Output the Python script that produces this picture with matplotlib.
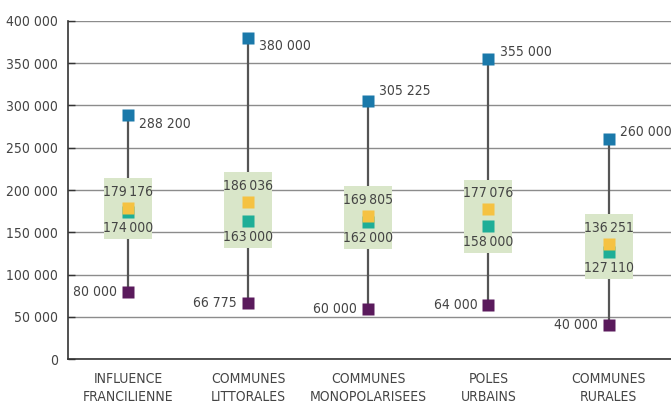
import matplotlib
matplotlib.use('Agg')
import matplotlib.pyplot as plt
import numpy as np

categories = ['INFLUENCE\nFRANCILIENNE', 'COMMUNES\nLITTORALES', 'COMMUNES\nMONOPOLARISEES',
              'POLES\nURBAINS', 'COMMUNES\nRURALES']
max_vals = [288200, 380000, 305225, 355000, 260000]
mean_vals = [179176, 186036, 169805, 177076, 136251]
median_vals = [174000, 163000, 162000, 158000, 127110]
min_vals = [80000, 66775, 60000, 64000, 40000]
y_ticks = [0, 50000, 100000, 150000, 200000, 250000, 300000, 350000, 400000]

def fmt(v, sep=' '):
    return '{:,}'.format(v).replace(',', sep)

plt.rcParams['font.family'] = ['DejaVu Sans']
plt.rcParams['font.stretch'] = 'condensed'
txt = '#444444'
fs = 10

fig = plt.figure(figsize=(6.71, 4.07), dpi=100)
ax = fig.add_axes([0.1013, 0.1172, 0.8987, 0.8318])

x = np.arange(len(categories))
# offsets (points) of the max labels, as placed in the original
max_dy = [-6, -6, 7, 5, 5]

for i in x:
    ax.plot([i, i], [min_vals[i], max_vals[i]], color='#555555', lw=1.6, zorder=2)
    top = mean_vals[i] + 35000
    bot = median_vals[i] - 32000
    ax.add_patch(plt.Rectangle((i - 0.2, bot), 0.4, top - bot, facecolor='#d9e6c9',
                               edgecolor='none', zorder=3))
    ax.plot(i, median_vals[i], 's', ms=8.2, color='#1eae97', mec='none', zorder=4)
    ax.plot(i, mean_vals[i], 's', ms=8.2, color='#f5c242', mec='none', zorder=5)
    ax.plot(i, max_vals[i], 's', ms=8.6, color='#1a79aa', mec='none', zorder=5)
    ax.plot(i, min_vals[i], 's', ms=8.6, color='#5a1a5c', mec='none', zorder=5)

    ax.annotate(fmt(max_vals[i]), (i, max_vals[i]), xytext=(8, max_dy[i]),
                textcoords='offset points', ha='left', va='center', fontsize=fs, color=txt, zorder=6)
    ax.annotate(fmt(min_vals[i]), (i, min_vals[i]), xytext=(-8, 0),
                textcoords='offset points', ha='right', va='center', fontsize=fs, color=txt, zorder=6)
    ax.annotate(fmt(mean_vals[i], '\u2009'), (i, mean_vals[i]), xytext=(0, 11.5),
                textcoords='offset points', ha='center', va='center', fontsize=fs, color=txt, zorder=6)
    ax.annotate(fmt(median_vals[i], '\u2009'), (i, median_vals[i]), xytext=(0, -11.5),
                textcoords='offset points', ha='center', va='center', fontsize=fs, color=txt, zorder=6)

ax.set_xlim(-0.5, 4.52)
ax.set_ylim(0, 400000)
ax.set_yticks(y_ticks)
ax.set_yticklabels([fmt(v) for v in y_ticks], fontsize=fs, color=txt)
ax.set_xticks(x)
ax.set_xticklabels(categories, fontsize=fs, color=txt, linespacing=1.35)
ax.tick_params(axis='x', length=0, pad=9)
ax.tick_params(axis='y', direction='in', length=5, width=1, color='#333333', pad=7)
ax.yaxis.grid(True, color='#8c8c8c', lw=1)
ax.set_axisbelow(True)
for s in ['top', 'right']:
    ax.spines[s].set_visible(False)
for s in ['left', 'bottom']:
    ax.spines[s].set_color('#333333')
    ax.spines[s].set_linewidth(1.2)

fig.savefig('out.png', dpi=100)
